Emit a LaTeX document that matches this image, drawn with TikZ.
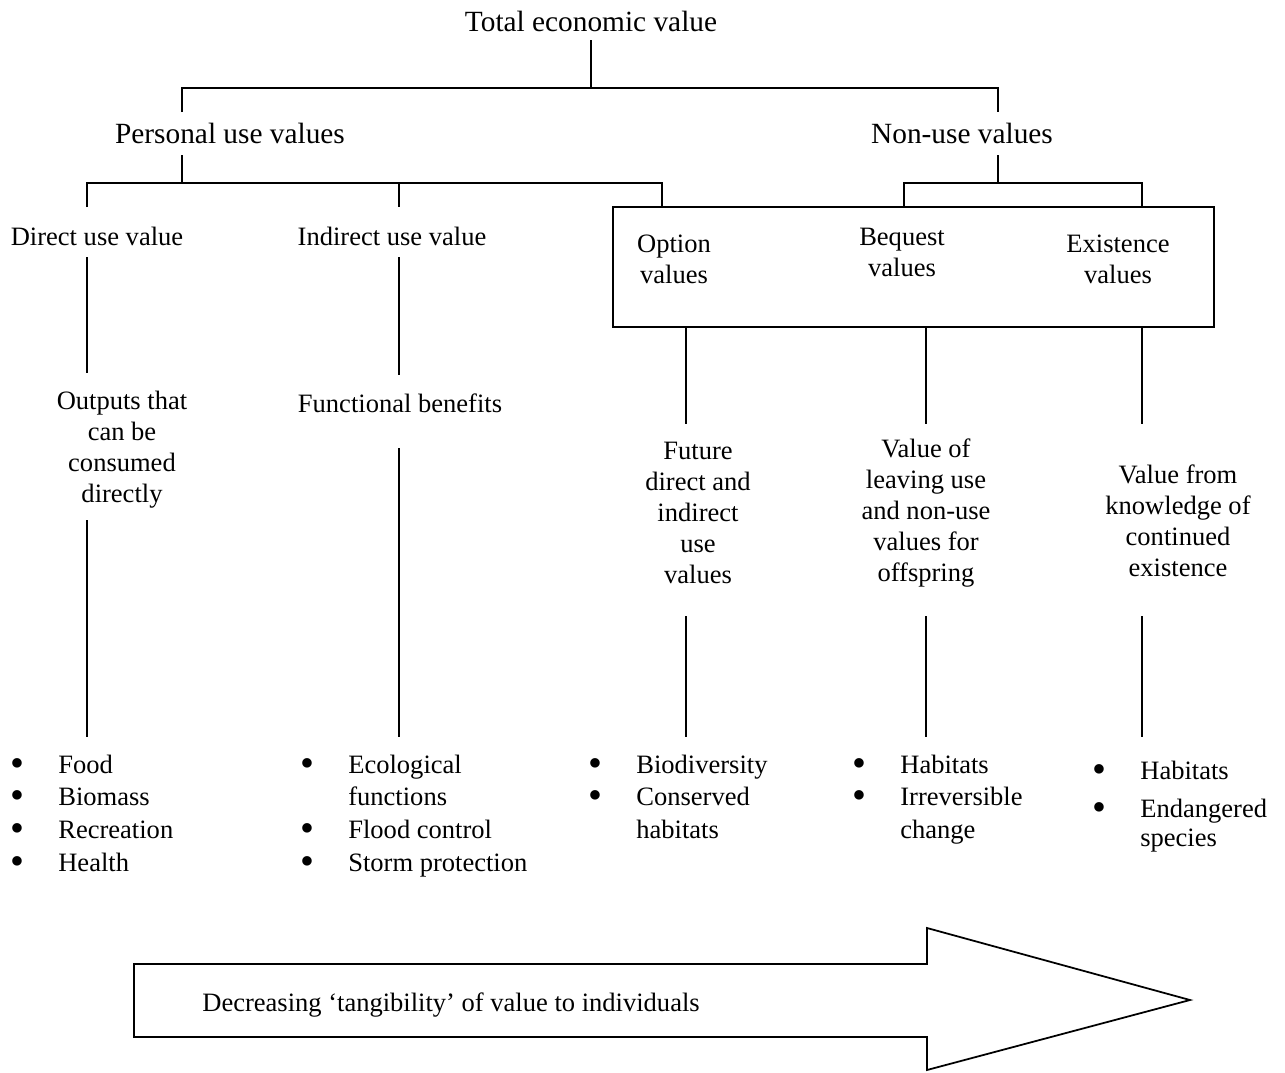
\documentclass[tikz,border=0pt]{standalone}
\usepackage{fontspec}
\setmainfont{Liberation Serif}
\usetikzlibrary{positioning}
\newcommand{\bul}{\raisebox{-0.25ex}{\scalebox{1.5}{\textbullet}}}
\tikzset{
  lbl/.style={inner sep=0pt, align=center, font=\fontsize{15.1}{17.6}\selectfont},
  head/.style={lbl, font=\fontsize{16.7}{19.5}\selectfont},
  lst/.style={inner sep=0pt, anchor=north west, font=\fontsize{15.1}{18.6}\selectfont},
  conn/.style={line width=1pt},
}
\begin{document}
\begin{tikzpicture}[x=0.02cm,y=-0.02cm]
\useasboundingbox (0,0) rectangle (1285,1072);
% Top level
\node[head] (tev) at (591,21) {Total economic value};
\node[head] (puv) at (230,133) {Personal use values};
\node[head] (nuv) at (962,133) {Non-use values};
\draw[conn] (591,40) coordinate (t0) -- (591,88) coordinate (t1);
\draw[conn] (182,112) -- (182,88) -- (998,88) -- (998,112);
% Personal use branch
\node[lbl] (duv) at (97,236) {Direct use value};
\node[lbl] (iuv) at (392,236) {Indirect use value};
\draw[conn] (182,155) -- (182,183);
\draw[conn] (87,207) -- (87,183) -- (662,183) -- (662,207);
\draw[conn] (399,183) -- (399,207);
% Non-use branch and box
\node[draw, conn, minimum width=12.02cm, minimum height=2.4cm] (vbox) at (913.5,267) {};
\node[lbl] (optv) at (674,259) {Option\\values};
\node[lbl] (beqv) at (902,252) {Bequest\\values};
\node[lbl] (exv) at (1118,259) {Existence\\values};
\draw[conn] (998,155) -- (998,183);
\coordinate (nl) at (904,183);
\coordinate (nr) at (1142,183);
\draw[conn] (nl |- vbox.north) -- (nl) -- (nr) -- (nr |- vbox.north);
% Descriptions
\node[lbl] (outp) at (122,449.5) {Outputs that\\can be\\consumed\\directly};
\node[lbl] (func) at (400,403) {Functional benefits};
\node[lbl] (futr) at (698,513) {Future\\direct and\\indirect\\use\\values};
\node[lbl] (leav) at (926,513) {Value of\\leaving use\\and non-use\\values for\\offspring};
\node[lbl] (know) at (1178,520.5) {Value from\\knowledge of\\continued\\existence};
\draw[conn] (87,257) -- (87,373);
\draw[conn] (399,257) -- (399,375);
\foreach \x in {686,926,1142}
  \draw[conn] (\x,327) -- (\x,424);
\draw[conn] (87,520) -- (87,737);
\draw[conn] (399,448) -- (399,737);
\foreach \x in {686,926,1142}
  \draw[conn] (\x,616) -- (\x,737);
% Examples
\node[lst] (lst1) at (10,750) {\begin{tabular}{@{}p{0.96cm}@{}l@{}}
  \bul & Food\\ \bul & Biomass\\ \bul & Recreation\\ \bul & Health
  \end{tabular}};
\node[lst] (lst2) at (300,750) {\begin{tabular}{@{}p{0.96cm}@{}l@{}}
  \bul & Ecological\\ & functions\\ \bul & Flood control\\ \bul & Storm protection
  \end{tabular}};
\node[lst] (lst3) at (588,750) {\begin{tabular}{@{}p{0.96cm}@{}l@{}}
  \bul & Biodiversity\\ \bul & Conserved\\ & habitats
  \end{tabular}};
\node[lst] (lst4) at (852,750) {\begin{tabular}{@{}p{0.96cm}@{}l@{}}
  \bul & Habitats\\ \bul & Irreversible\\ & change
  \end{tabular}};
\node[lst] (lst5) at (1092,756) {\begin{tabular}{@{}p{0.96cm}@{}l@{}}
  \bul & Habitats\\[3pt] \bul & Endangered\\[-2pt] & species
  \end{tabular}};
% Arrow
\draw[conn] (134,964) -- (927,964) -- (927,928) -- (1190,1000) -- (927,1070) -- (927,1037) -- (134,1037) -- cycle;
\node[lbl, anchor=west] (tang) at (202,1005) {Decreasing ‘tangibility’ of value to individuals};
\end{tikzpicture}
\end{document}
